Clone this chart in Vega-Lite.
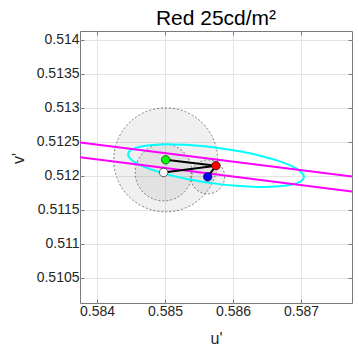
{
  "$schema": "https://vega.github.io/schema/vega-lite/v6.json",
  "width": 272,
  "height": 272,
  "autosize": "none",
  "padding": {"left": 80, "top": 31, "right": 7, "bottom": 46},
  "background": "white",
  "title": {
    "text": "Red 25cd/m²",
    "font": "Liberation Sans",
    "fontSize": 21,
    "fontWeight": "normal",
    "color": "#000000",
    "anchor": "middle",
    "baseline": "alphabetic",
    "offset": 6,
    "dy": 21
  },
  "config": {
    "view": {"stroke": "#7a7a7a", "strokeWidth": 1},
    "axis": {
      "labelFont": "Liberation Sans",
      "labelFontSize": 14,
      "labelColor": "#262626",
      "titleFont": "Liberation Sans",
      "titleFontSize": 16,
      "titleFontWeight": "normal",
      "titleColor": "#262626",
      "domain": false,
      "grid": true,
      "gridColor": "#e4e4e4",
      "gridWidth": 1,
      "tickColor": "#7a7a7a",
      "tickSize": 4,
      "labelPadding": 5
    }
  },
  "datasets": {
    "circles": [
      {"u": 0.58501, "v": 0.512235, "r": 0.000765},
      {"u": 0.58498, "v": 0.51205, "r": 0.000419},
      {"u": 0.585628, "v": 0.511985, "r": 0.00025}
    ],
    "ellipse": [
      {"i": 0, "u": 0.5870436, "v": 0.5119767},
      {"i": 1, "u": 0.5870085, "v": 0.5120501},
      {"i": 2, "u": 0.5868878, "v": 0.5121304},
      {"i": 3, "u": 0.5866894, "v": 0.512212},
      {"i": 4, "u": 0.586427, "v": 0.5122892},
      {"i": 5, "u": 0.5861185, "v": 0.5123571},
      {"i": 6, "u": 0.5857849, "v": 0.5124109},
      {"i": 7, "u": 0.5854489, "v": 0.5124469},
      {"i": 8, "u": 0.5851334, "v": 0.5124626},
      {"i": 9, "u": 0.58486, "v": 0.512457},
      {"i": 10, "u": 0.5846472, "v": 0.5124306},
      {"i": 11, "u": 0.5845095, "v": 0.5123849},
      {"i": 12, "u": 0.5844564, "v": 0.5123233},
      {"i": 13, "u": 0.5844915, "v": 0.5122499},
      {"i": 14, "u": 0.5846122, "v": 0.5121696},
      {"i": 15, "u": 0.5848106, "v": 0.512088},
      {"i": 16, "u": 0.585073, "v": 0.5120108},
      {"i": 17, "u": 0.5853815, "v": 0.5119429},
      {"i": 18, "u": 0.5857151, "v": 0.5118891},
      {"i": 19, "u": 0.5860511, "v": 0.5118531},
      {"i": 20, "u": 0.5863666, "v": 0.5118374},
      {"i": 21, "u": 0.58664, "v": 0.511843},
      {"i": 22, "u": 0.5868528, "v": 0.5118694},
      {"i": 23, "u": 0.5869905, "v": 0.5119151}
    ],
    "bands": [
      {"u": 0.58375, "v": 0.51249, "u2": 0.58775, "v2": 0.51199},
      {"u": 0.58375, "v": 0.512275, "u2": 0.58775, "v2": 0.511769}
    ],
    "links": [
      {"u": 0.58501, "v": 0.512235, "u2": 0.58575, "v2": 0.51215},
      {"u": 0.58498, "v": 0.51205, "u2": 0.58575, "v2": 0.51215},
      {"u": 0.585628, "v": 0.511985, "u2": 0.58575, "v2": 0.51215}
    ],
    "points": [
      {"id": 1, "u": 0.58501, "v": 0.512235},
      {"id": 2, "u": 0.58498, "v": 0.51205},
      {"id": 3, "u": 0.58575, "v": 0.51215},
      {"id": 4, "u": 0.585628, "v": 0.511985}
    ]
  },
  "resolve": {"axis": {"x": "independent", "y": "independent"}},
  "layer": [
    {
      "data": {"name": "circles"},
      "mark": {"type": "point", "shape": "circle", "filled": true, "fill": "#808080", "fillOpacity": 0.12, "stroke": "#3a3a3a", "strokeWidth": 0.7, "strokeOpacity": 0.9, "strokeDash": [2, 2], "clip": true},
      "encoding": {
        "x": {"field": "u", "type": "quantitative", "scale": {"domain": [0.58375, 0.58775], "nice": false, "zero": false},
          "axis": {"values": [0.584, 0.585, 0.586, 0.587], "format": "~g", "title": "u'", "titleY": 40, "titleBaseline": "alphabetic", "tickSize": -4}},
        "y": {"field": "v", "type": "quantitative", "scale": {"domain": [0.51013, 0.51413], "nice": false, "zero": false},
          "axis": {"values": [0.5105, 0.511, 0.5115, 0.512, 0.5125, 0.513, 0.5135, 0.514], "format": "~g", "title": "v'", "titleX": -57, "titleY": 127, "titleBaseline": "alphabetic", "tickSize": -4}},
        "size": {"field": "r", "type": "quantitative", "scale": {"type": "pow", "exponent": 2, "domain": [0, 0.001], "range": [0, 18496]}, "legend": null}
      }
    },
    {
      "data": {"name": "ellipse"},
      "mark": {"type": "line", "color": "#00ffff", "strokeWidth": 2, "interpolate": "cardinal-closed", "clip": true},
      "encoding": {
        "x": {"field": "u", "type": "quantitative", "axis": {"orient": "top", "labels": false, "grid": false, "title": null, "tickSize": -4, "values": [0.584, 0.585, 0.586, 0.587]}},
        "y": {"field": "v", "type": "quantitative", "axis": {"orient": "right", "labels": false, "grid": false, "title": null, "tickSize": -4, "values": [0.5105, 0.511, 0.5115, 0.512, 0.5125, 0.513, 0.5135, 0.514]}},
        "order": {"field": "i", "type": "quantitative"}
      }
    },
    {
      "data": {"name": "bands"},
      "mark": {"type": "rule", "color": "#ff00ff", "strokeWidth": 2, "clip": true},
      "encoding": {
        "x": {"field": "u", "type": "quantitative", "axis": null},
        "y": {"field": "v", "type": "quantitative", "axis": null},
        "x2": {"field": "u2"},
        "y2": {"field": "v2"}
      }
    },
    {
      "data": {"name": "links"},
      "mark": {"type": "rule", "color": "#000000", "strokeWidth": 2},
      "encoding": {
        "x": {"field": "u", "type": "quantitative", "axis": null},
        "y": {"field": "v", "type": "quantitative", "axis": null},
        "x2": {"field": "u2"},
        "y2": {"field": "v2"}
      }
    },
    {
      "data": {"name": "points"},
      "mark": {"type": "point", "shape": "circle", "filled": true, "size": 72, "stroke": "#000000", "strokeWidth": 0.6, "opacity": 1},
      "encoding": {
        "x": {"field": "u", "type": "quantitative", "axis": null},
        "y": {"field": "v", "type": "quantitative", "axis": null},
        "fill": {"field": "id", "type": "nominal", "scale": {"domain": [1, 2, 3, 4], "range": ["#00ff00", "#ffffff", "#ff0000", "#0000ff"]}, "legend": null}
      }
    }
  ]
}
